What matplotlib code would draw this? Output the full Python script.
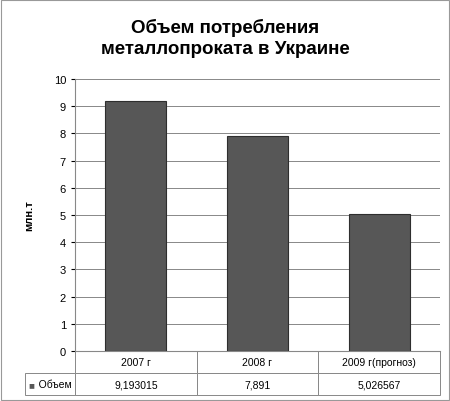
import matplotlib
matplotlib.use('Agg')
import matplotlib.pyplot as plt
from matplotlib.patches import Rectangle

categories = ['2007 г', '2008 г', '2009 г(прогноз)']
values = [9.193015, 7.891, 5.026567]
value_labels = ['9,193015', '7,891', '5,026567']
series_name = 'Объем'

plt.rcParams['font.family'] = ['Liberation Sans', 'DejaVu Sans']
fig = plt.figure(figsize=(4.5, 4.02), dpi=100)
fig.patch.set_facecolor('white')
fig.patches.append(Rectangle((0.003, 0.003), 0.994, 0.994, transform=fig.transFigure,
                             fill=False, edgecolor='#999999', linewidth=0.8))
ax = fig.add_axes([75/450, 50/402, 365/450, 272/402])
x = range(len(categories))
ax.bar(x, values, width=0.5, color='#575757', edgecolor='#2e2e2e', linewidth=0.8, zorder=3)
ax.set_xlim(-0.5, 2.5)
ax.set_ylim(0, 10)
ax.set_yticks(range(0, 11))
ax.tick_params(axis='y', labelsize=8, length=3)
ax.set_xticks([])
ax.grid(axis='y', color='#888888', linewidth=0.7, zorder=0)
for s in ['top', 'right']:
    ax.spines[s].set_visible(False)
ax.spines['left'].set_color('#888888')
ax.spines['bottom'].set_color('#888888')
ax.set_ylabel('млн.т', fontsize=8, fontweight='bold', labelpad=14)
fig.text(0.5, 0.905, 'Объем потребления\nметаллопроката в Украине', ha='center', va='center',
         fontsize=13.5, fontweight='bold', linespacing=1.3)

tbl = ax.table(cellText=[value_labels], rowLabels=['   ' + series_name], colLabels=categories,
               cellLoc='center', rowLoc='left', bbox=[0, -0.162, 1, 0.162])
tbl.auto_set_font_size(False)
tbl.set_fontsize(7.5)
for (r, c), cell in tbl.get_celld().items():
    cell.set_edgecolor('#888888')
    cell.set_linewidth(0.7)
    if c == -1:
        cell.set_width(57/365)
ax.text(-0.128, -0.122, '■', transform=ax.transAxes, fontsize=7, color='#575757', va='center')
fig.savefig('out.png', dpi=100)
